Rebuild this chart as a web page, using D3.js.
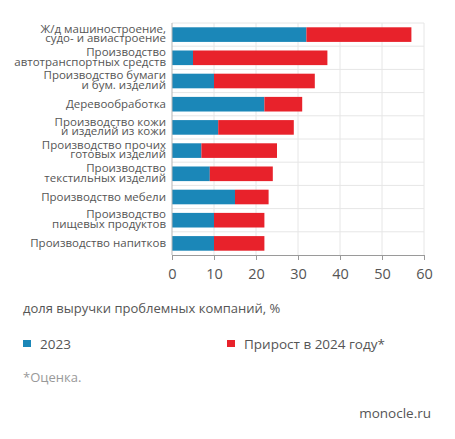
<!DOCTYPE html>
<html>
<head>
<meta charset="utf-8">
<script src="https://cdn.jsdelivr.net/npm/d3@7"></script>
<style>
  body { margin: 0; background: #fff; }
  text { font-family: "Open Sans", "Noto Sans", sans-serif; }
</style>
</head>
<body>
<div id="chart"></div>
<script>
// Data
const categories = [
  ['Ж/д машиностроение,', 'судо- и авиастроение'],
  ['Производство', 'автотранспортных средств'],
  ['Производство бумаги', 'и бум. изделий'],
  ['Деревообработка'],
  ['Производство кожи', 'и изделий из кожи'],
  ['Производство прочих', 'готовых изделий'],
  ['Производство', 'текстильных изделий'],
  ['Производство мебели'],
  ['Производство', 'пищевых продуктов'],
  ['Производство напитков']
];
const values2023 = [32, 5, 10, 22, 11, 7, 9, 15, 10, 10];
const growth2024 = [25, 32, 24, 9, 18, 18, 15, 8, 12, 12];
const xTicks = [0, 10, 20, 30, 40, 50, 60];
const seriesNames = ['2023', 'Прирост в 2024 году*'];
const colors = ['#1b87b8', '#e8222b'];

const width = 455, height = 439;
const margin = { top: 23, left: 172, right: 31, bottom: 184 };

const svg = d3.select('#chart').append('svg')
  .attr('width', width)
  .attr('height', height);

const table = categories.map((c, i) => ({ idx: i, label: c, a: values2023[i], b: growth2024[i] }));

const xScale = d3.scaleLinear().domain([0, 60]).range([margin.left, width - margin.right]);
const yScale = d3.scaleBand().domain(d3.range(categories.length))
  .range([margin.top, height - margin.bottom]).paddingInner(0.37).paddingOuter(0.185);

// Grid
const grid = svg.append('g');
grid.selectAll('line.v').data(xTicks.slice(1)).join('line')
  .attr('x1', d => xScale(d)).attr('x2', d => xScale(d))
  .attr('y1', margin.top).attr('y2', height - margin.bottom)
  .attr('stroke', '#e6e6e6');
const rowLines = d3.range(categories.length).map(i => yScale(i) - yScale.step() * yScale.paddingInner() / 2);
grid.selectAll('line.h').data(rowLines).join('line')
  .attr('x1', margin.left).attr('x2', width - margin.right)
  .attr('y1', d => d).attr('y2', d => d)
  .attr('stroke', '#e6e6e6');

// Bars
const stack = d3.stack().keys(['a', 'b'])(table);
svg.append('g').selectAll('g').data(stack).join('g')
  .attr('fill', (d, i) => colors[i])
  .selectAll('rect').data(d => d).join('rect')
  .attr('x', d => xScale(d[0]))
  .attr('width', d => xScale(d[1]) - xScale(d[0]))
  .attr('y', d => yScale(d.data.idx))
  .attr('height', yScale.bandwidth());

// Left axis line
svg.append('line')
  .attr('x1', margin.left).attr('x2', margin.left)
  .attr('y1', margin.top).attr('y2', height - margin.bottom)
  .attr('stroke', '#b5b5b5');

// X axis
const xAxis = svg.append('g')
  .attr('transform', `translate(0,${height - margin.bottom})`)
  .call(d3.axisBottom(xScale).tickValues(xTicks).tickSize(5).tickPadding(9));
xAxis.select('.domain').attr('stroke', '#9a9a9a');
xAxis.selectAll('.tick line').attr('stroke', '#9a9a9a');
xAxis.selectAll('.tick text').attr('fill', '#555').attr('font-size', 14.5)
  .style('font-family', '"Open Sans", sans-serif');

// Category labels
const labels = svg.append('g').selectAll('text').data(table).join('text')
  .attr('text-anchor', 'end')
  .attr('fill', '#555')
  .attr('font-size', 11.5)
  .attr('x', margin.left - 6)
  .attr('y', d => yScale(d.idx) + yScale.bandwidth() / 2);
labels.selectAll('tspan').data(d => d.label.map((t, j) => ({ t, j, n: d.label.length }))).join('tspan')
  .attr('x', margin.left - 6)
  .attr('dy', d => d.j === 0 ? (d.n === 1 ? '0.35em' : '-0.15em') : '0.83em')
  .text(d => d.t);

// Axis title
svg.append('text').attr('x', 23).attr('y', 313)
  .attr('fill', '#555').attr('font-size', 13)
  .text('доля выручки проблемных компаний, %');

// Legend
const legendX = [23, 227];
const legend = svg.append('g').selectAll('g').data(seriesNames).join('g')
  .attr('transform', (d, i) => `translate(${legendX[i]},340)`);
legend.append('rect').attr('width', 8).attr('height', 7).attr('fill', (d, i) => colors[i]);
legend.append('text').attr('x', 17).attr('y', 8.5)
  .attr('fill', '#555').attr('font-size', 13.5).text(d => d);

// Footnote and source
svg.append('text').attr('x', 23).attr('y', 382)
  .attr('fill', '#999').attr('font-size', 13).text('*Оценка.');
svg.append('text').attr('x', 431).attr('y', 418).attr('text-anchor', 'end')
  .attr('fill', '#555').attr('font-size', 13.5).text('monocle.ru');
</script>
</body>
</html>
